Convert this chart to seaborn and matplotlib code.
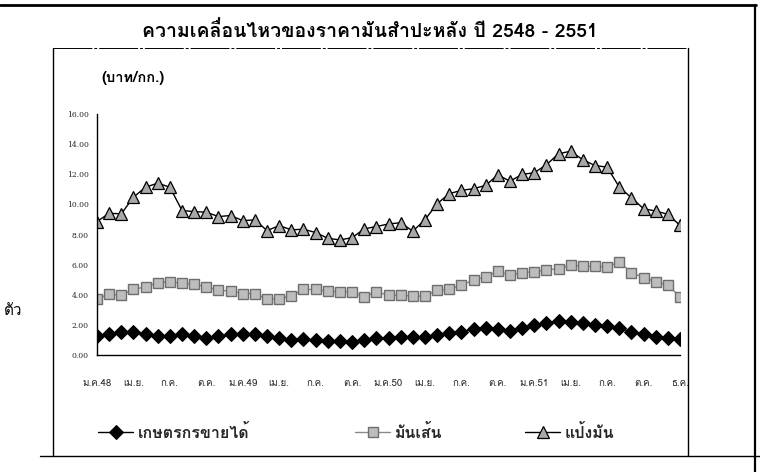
import matplotlib
matplotlib.use("Agg")
import matplotlib.pyplot as plt
import numpy as np
import pandas as pd
import seaborn as sns
from matplotlib import font_manager as fm
from matplotlib.ft2font import FT2Font
from matplotlib.lines import Line2D

# ---------------- data ----------------
farmer = [1.28, 1.39, 1.55, 1.50, 1.39, 1.26, 1.28, 1.39, 1.28, 1.15, 1.26, 1.39, 1.39,
          1.39, 1.26, 1.15, 0.99, 1.04, 0.99, 0.95, 0.95, 0.84, 0.99, 1.10, 1.10, 1.18,
          1.21, 1.21, 1.32, 1.43, 1.55, 1.72, 1.77, 1.72, 1.61, 1.81, 1.99, 2.14, 2.27,
          2.21, 2.10, 1.99, 1.92, 1.77, 1.55, 1.37, 1.21, 1.10, 1.06]
chips = [3.75, 4.02, 3.97, 4.35, 4.53, 4.79, 4.86, 4.75, 4.70, 4.53, 4.30, 4.24, 4.08,
         4.08, 3.69, 3.75, 3.91, 4.35, 4.35, 4.24, 4.19, 4.19, 3.86, 4.19, 3.97, 3.97,
         3.91, 3.91, 4.30, 4.35, 4.64, 4.97, 5.19, 5.56, 5.30, 5.47, 5.52, 5.63, 5.74,
         5.96, 5.89, 5.89, 5.85, 6.18, 5.47, 5.14, 4.86, 4.64, 3.86]
starch = [8.86, 9.41, 9.37, 10.48, 11.14, 11.41, 11.14, 9.59, 9.52, 9.48, 9.19, 9.26,
          8.92, 8.97, 8.26, 8.59, 8.31, 8.35, 8.13, 7.75, 7.64, 7.79, 8.37, 8.53, 8.70,
          8.78, 8.22, 8.98, 10.04, 10.71, 10.93, 11.04, 11.26, 11.96, 11.54, 11.99, 12.10,
          12.63, 13.36, 13.53, 12.96, 12.58, 12.47, 11.15, 10.44, 9.71, 9.56, 9.34, 8.61]
series_names = ["เกษตรกรขายได้", "มันเส้น", "แป้งมัน"]
tick_pos = [0, 3, 6, 9, 12, 15, 18, 21, 24, 27, 30, 33, 36, 39, 42, 45, 48]
tick_labels = ["ม.ค.48", "เม.ย.", "ก.ค.", "ต.ค.", "ม.ค.49", "เม.ย.", "ก.ค.", "ต.ค.",
               "ม.ค.50", "เม.ย.", "ก.ค.", "ต.ค.", "ม.ค.51", "เม.ย.", "ก.ค.", "ต.ค.", "ธ.ค."]
y_ticks = [0, 2, 4, 6, 8, 10, 12, 14, 16]
title_text = "ความเคลื่อนไหวของราคามันสำปะหลัง ปี 2548 - 2551"
unit_text = "(บาท/กก.)"
side_text = "ตัว"

# ---------------- fonts ----------------
sns.set_style("white")


def find_thai_font():
    found = []
    for f in fm.fontManager.ttflist:
        try:
            cmap = FT2Font(f.fname).get_charmap()
        except Exception:
            continue
        if 0x0E01 in cmap and 0x0E31 in cmap:
            found.append(f.name)
    return found


thai = find_thai_font()
families = ([thai[0]] if thai else []) + ["DejaVu Sans"]
plt.rcParams["font.family"] = families

W, H = 760, 472
fig = plt.figure(figsize=(W / 100, H / 100), dpi=100)
fig.patch.set_facecolor("white")


def fx(x):
    return x / W


def fy(y):
    return 1 - y / H


ax = fig.add_axes([fx(97), fy(355), (680 - 97) / W, (355 - 114) / H])
ax.set_facecolor("white")

idx = np.arange(len(farmer))
df = pd.DataFrame({"idx": idx, "farmer": farmer, "chips": chips, "starch": starch})

sns.lineplot(data=df, x="idx", y="farmer", ax=ax, color="black", linewidth=1.0,
             marker="D", markersize=7, markerfacecolor="black", markeredgecolor="black",
             label=series_names[0])
sns.lineplot(data=df, x="idx", y="chips", ax=ax, color="#8a8a8a", linewidth=1.0,
             marker="s", markersize=6.5, markerfacecolor="#bdbdbd", markeredgecolor="#6e6e6e",
             markeredgewidth=1.0, label=series_names[1])
sns.lineplot(data=df, x="idx", y="starch", ax=ax, color="black", linewidth=1.0,
             marker="^", markersize=8, markerfacecolor="#a8a8a8", markeredgecolor="black",
             markeredgewidth=0.9, label=series_names[2])

handles, labels = ax.get_legend_handles_labels()
if ax.get_legend() is not None:
    ax.get_legend().remove()

ax.set_xlim(0, len(farmer) - 1)
ax.set_ylim(0, 16)
ax.set_yticks(y_ticks)
ax.set_yticklabels([f"{v:.2f}" for v in y_ticks], fontsize=5.5, family="DejaVu Serif")
ax.set_xticks(idx)
lab = [""] * len(idx)
for p, t in zip(tick_pos, tick_labels):
    lab[p] = t
ax.set_xticklabels(lab, fontsize=7)
ax.set_xlabel("")
ax.set_ylabel("")
ax.tick_params(axis="y", direction="out", length=3, width=0.8, pad=3, color="black")
ax.tick_params(axis="x", direction="out", length=3, width=0.8, pad=14, color="black")
for s in ["top", "right"]:
    ax.spines[s].set_visible(False)
for s in ["left", "bottom"]:
    ax.spines[s].set_color("black")
    ax.spines[s].set_linewidth(1.0)

# ---------------- texts ----------------
fig.text(fx(370), fy(31), title_text, ha="center", va="center", fontsize=14,
         fontweight="bold", color="black")
fig.text(fx(101), fy(78), unit_text, ha="left", va="center", fontsize=10.5,
         fontweight="bold", color="black")
fig.text(fx(4), fy(311), side_text, ha="left", va="center", fontsize=11, color="black")

# ---------------- frame lines ----------------
def hline(y, x0, x1, lw=1.0, ls="-"):
    fig.add_artist(Line2D([fx(x0), fx(x1)], [fy(y), fy(y)], color="black", lw=lw, ls=ls,
                          transform=fig.transFigure))


def vline(x, y0, y1, lw=1.0, ls="-"):
    fig.add_artist(Line2D([fx(x), fx(x)], [fy(y0), fy(y1)], color="black", lw=lw, ls=ls,
                          transform=fig.transFigure))


hline(5, 0, 756, lw=2.0)
vline(755, 5, 472, lw=1.6)
hline(48, 53, 688, lw=0.7, ls=(0, (40, 2, 3, 2)))
vline(53, 48, 456, lw=1.0)
vline(688, 48, 456, lw=1.0)
hline(456, 40, 760, lw=1.0)

# ---------------- legend ----------------
leg_x = [98, 355, 525]
for h, l, x in zip(handles, labels, leg_x):
    fig.legend([h], [l], loc="center left", bbox_to_anchor=(fx(x), fy(432)),
               frameon=False, handlelength=2.2, handletextpad=0.3, borderpad=0,
               borderaxespad=0, prop={"size": 11.5, "weight": "bold"})

fig.savefig("out.png", dpi=100, facecolor="white")
